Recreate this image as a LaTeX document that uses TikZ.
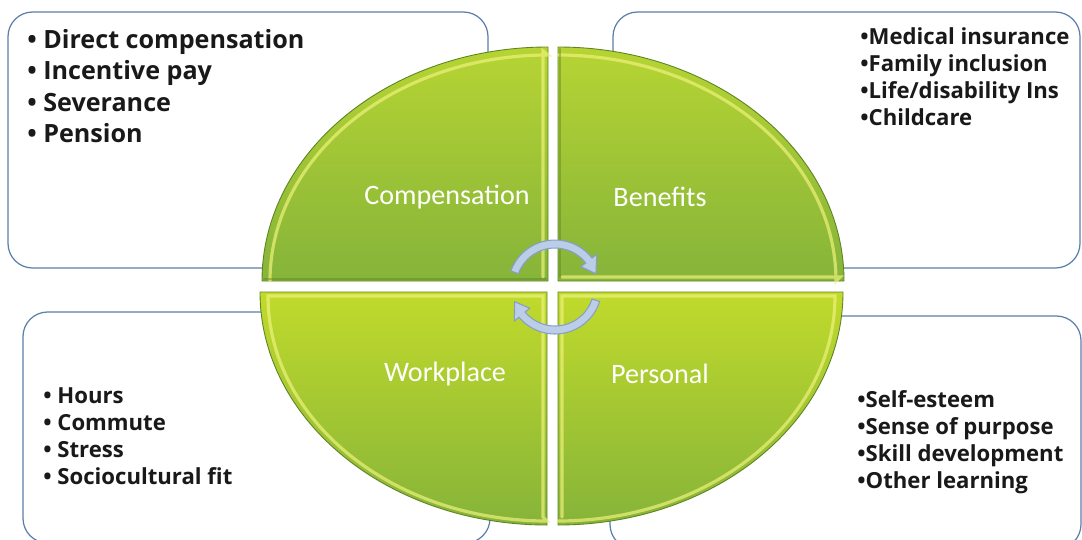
\documentclass[tikz,border=0pt]{standalone}
\usepackage{fontspec}
\setmainfont{Carlito}
\newfontfamily\listfont{Open Sans}
\usetikzlibrary{arrows.meta}
\definecolor{boxline}{HTML}{5B7FA8}
\definecolor{leafdark}{HTML}{86B43A}
\definecolor{leaflight}{HTML}{B6D433}
\definecolor{leafedge}{HTML}{5F8324}
\definecolor{leafshine}{HTML}{EEF27A}
\definecolor{cyclefill}{HTML}{BCCDE8}
\definecolor{cycleline}{HTML}{859FCB}

\begin{document}
\begin{tikzpicture}[x=0.02cm,y=0.02cm,line cap=round,
  listbox/.style={draw=boxline,line width=0.7pt,fill=white,rounded corners=14pt},
  leaf/.style={draw=leafedge,line width=0.5pt},
  shine/.style={leafshine,line width=1.8pt,opacity=0.7},
  shade/.style={leafedge,line width=1.5pt,opacity=0.45},
  leaflabel/.style={text=white,font=\fontsize{16}{19}\selectfont},
  biglist/.style={anchor=north west,inner sep=0pt,align=left,text=black!90,
    font=\listfont\bfseries\fontsize{14.3}{17.9}\selectfont},
  smalllist/.style={anchor=north west,inner sep=0pt,align=left,text=black!90,
    font=\listfont\bfseries\fontsize{12.6}{15.5}\selectfont},
  cycle/.style={fill=cyclefill,draw=cycleline,line width=0.6pt}]
\useasboundingbox (0,0) rectangle (1082,539);
\clip (0,0) rectangle (1082,539);
% text boxes behind the circle
\draw[listbox] (8,271) rectangle (488,527);
\draw[listbox] (613,271) rectangle (1080,527);
\draw[listbox] (23,-4) rectangle (490,227);
\draw[listbox] (610,-10) rectangle (1081,223);
% four quarters
\path[leaf,top color=leaflight,bottom color=leafdark]
  (548,258) -- (262,258) arc(180:90:286 and 234) -- cycle;
\path[leaf,top color=leaflight,bottom color=leafdark]
  (558,258) -- (558,492) arc(90:0:286 and 234) -- cycle;
\path[leaf,top color=leaflight!85!yellow,bottom color=leafdark]
  (547,247) -- (547,14) arc(270:180:287 and 233) -- cycle;
\path[leaf,top color=leaflight!85!yellow,bottom color=leafdark]
  (558,247) -- (843,247) arc(0:-90:285 and 233) -- cycle;
% bevel light and shade
\draw[shine] (270,258) arc(180:90:278 and 226) -- (543,488) -- (543,262);
\draw[shade] (264,260) -- (546,260);
\draw[shine] (558,484) arc(90:0:278 and 226) -- (840,262) -- (562,262);
\draw[shade] (560,262) -- (560,490);
\draw[shine] (268,243) arc(180:270:279 and 225) -- (543,22) -- (543,243) -- cycle;
\draw[shine] (562,22) -- (562,243) -- (835,243) arc(0:-90:277 and 225);
% labels
\node[leaflabel] (comp) at (447,342) {Compensation};
\node[leaflabel] (bene) at (660,342) {Benefits};
\node[leaflabel] (work) at (445,165) {Workplace};
\node[leaflabel] (pers) at (660,165) {Personal};
% lists
\node[biglist] (compList) at (27,510) {• Direct compensation\\• Incentive pay\\• Severance\\• Pension};
\node[smalllist] (beneList) at (860,512) {•Medical insurance\\•Family inclusion\\•Life/disability Ins\\•Childcare};
\node[smalllist] (workList) at (43,152) {• Hours\\• Commute\\• Stress\\• Sociocultural fit};
\node[smalllist] (persList) at (857,149) {•Self-esteem\\•Sense of purpose\\•Skill development\\•Other learning};
% cycle arrows
\begin{scope}[shift={(555,252)}]
\path[cycle] (160:47) arc[start angle=160,end angle=38,radius=47] -- (38:53)
  -- (18:43) -- (38:33) -- (38:39) arc[start angle=38,end angle=160,radius=39] -- cycle;
\path[cycle] (-18:47) arc[start angle=-18,end angle=-140,radius=47] -- (-140:53)
  -- (-160:43) -- (-140:33) -- (-140:39) arc[start angle=-140,end angle=-18,radius=39] -- cycle;
\end{scope}
\end{tikzpicture}
\end{document}
